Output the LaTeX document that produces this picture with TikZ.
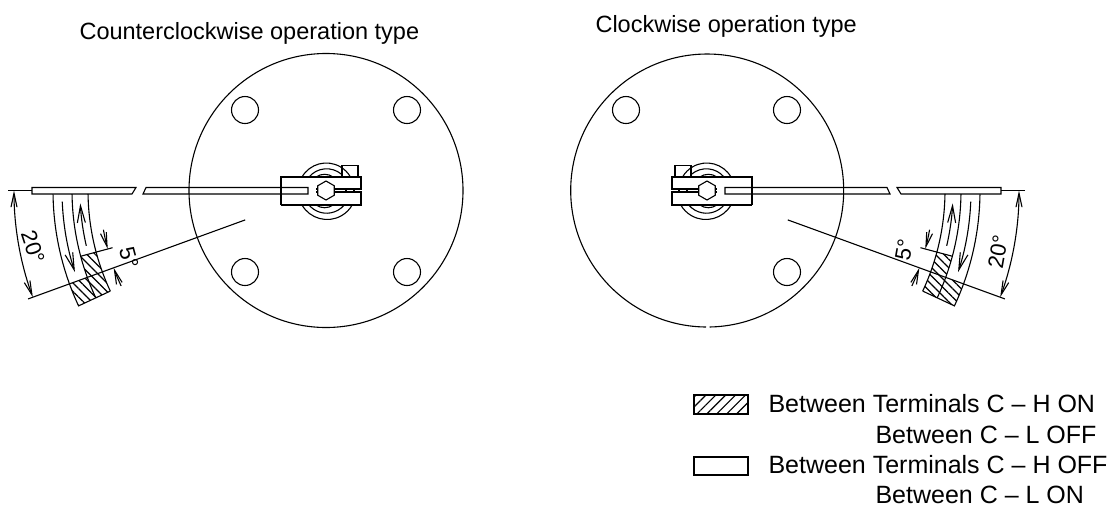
\documentclass[tikz,border=0pt]{standalone}
\usepackage{fontspec}
\setmainfont{Liberation Sans}
\usetikzlibrary{arrows.meta,patterns.meta}

\tikzset{
	dimarrow/.style={arrows={Straight Barb[length=14pt,width=6pt]-Straight Barb[length=14pt,width=6pt]}},
	onearrow/.style={-{Straight Barb[length=14pt,width=6pt]}},
	flowarrow/.style={-{Straight Barb[length=17pt,width=8pt]}},
	hatched/.style={pattern={Lines[angle=-45,distance=6pt,line width=1.2pt]}},
	legendhatched/.style={pattern={Lines[angle=45,distance=7pt,line width=1.1pt]}},
	title/.style={font=\fontsize{23.5}{28}\selectfont, inner sep=0pt, anchor=base west},
	label/.style={font=\fontsize{25}{30}\selectfont, inner sep=0pt, anchor=base west},
	dimlabel/.style={font=\fontsize{22}{26}\selectfont, inner sep=0pt},
	switchplate/.pic={
		% clamp and lever
		\draw (-45,14.5) -- (-45,-13.5) -- (35,-13.5) -- (35,-1.5) -- (-10,-1.5);
		\draw (-10,1.5) -- (35,1.5) -- (35,14.5) -- (-45,14.5);
		\draw (20,-1.5) -- (20,1.5) (28,-1.5) -- (28,1.5);
		\draw (16,-13.5) -- (16,-25) -- (32,-25) -- (32,-13.5);
		\draw[fill=white] (90:9.5) -- (30:9.5) -- (-30:9.5) -- (-90:9.5) -- (-150:9.5) -- (150:9.5) -- cycle;
		\draw (-24,-13.5) arc[start angle=-150, end angle=-30, radius=28];
		\draw (-17,-13.5) arc[start angle=-140, end angle=-50, radius=23];
		\draw (-24,14.5) arc[start angle=150, end angle=30, radius=29];
		\draw (-17,14.5) arc[start angle=140, end angle=40, radius=23];
		\draw (-10,-13.5) arc[start angle=-125, end angle=-55, radius=15];
		\draw (-10,14.5) arc[start angle=125, end angle=55, radius=15];
		\draw (-318,0) -- (-294,0);
		\draw (-190,-3) -- (-294,-3) -- (-294,3.5) -- (-194,3.5) -- cycle;
		\draw (-18,-3) -- (-180,-3) -- (-183,3.5) -- (-18,3.5) -- cycle;
		% operating bands
		\fill[white, hatched] (165:238) -- (165:254) arc[start angle=165, end angle=160, radius=254]
			-- (160:273) arc[start angle=160, end angle=155, radius=273]
			-- (155:238) arc[start angle=155, end angle=165, radius=238] -- cycle;
		\draw (179.2:273) arc[start angle=179.2, end angle=155, radius=273] -- (155:238);
		\draw (179.2:254) arc[start angle=179.2, end angle=155, radius=254];
		\draw (179.2:238) arc[start angle=179.2, end angle=155, radius=238];
		\draw (165:254) -- (165:221);
		\draw (160:86) -- (160:317);
		% arrows and dimensions
		\draw[flowarrow] (177.6:264) arc[start angle=177.6, end angle=162, radius=264];
		\draw[flowarrow] (167:246) arc[start angle=167, end angle=177, radius=246];
		\draw[dimarrow] (180:312) arc[start angle=180, end angle=160, radius=312];
		\draw[onearrow] (170:226) arc[start angle=170, end angle=165, radius=226];
		\draw[onearrow] (155:226) arc[start angle=155, end angle=160, radius=226];
	}
}

\begin{document}
\begin{tikzpicture}[x=1pt, y=1pt, yscale=-1, line width=1.1pt]
	\useasboundingbox (0,0) rectangle (1113,507);

	\coordinate (CCW) at (326,190.5);
	\coordinate (CW) at (707,190.5);

	\node[title] (CCWTitle) at (79,39) {Counterclockwise operation type};
	\node[title] (CWTitle) at (595,32) {Clockwise operation type};

	\draw (CCW) circle[radius=137];
	\draw (CW) ++(-1,136.5) arc[start angle=90.5, end angle=449, radius=136.5];
	\draw (245,110) circle[radius=13.5];
	\draw (407,110) circle[radius=13.5];
	\draw (245,272) circle[radius=13.5];
	\draw (407,272) circle[radius=13.5];
	\draw (626,110) circle[radius=13.5];
	\draw (787,110) circle[radius=13.5];
	\draw (787,272) circle[radius=13.5];

	\pic[yscale=-1] at (CCW) {switchplate};
	\pic[xscale=-1, yscale=-1] at (CW) {switchplate};

	\node[dimlabel, rotate=-72] (AngleL) at (33,247) {20°};
	\node[dimlabel, rotate=-75] (SmallL) at (129,258) {5°};
	\node[dimlabel, rotate=80] (AngleR) at (998,252) {20°};
	\node[dimlabel, rotate=80] (SmallR) at (904,250) {5°};

	% legend
	\draw[legendhatched] (694,395) rectangle (748,414);
	\draw (694,457) rectangle (748,475);
	\node[label] (LegendA) at (768,412) {Between Terminals C – H ON};
	\node[label] (LegendB) at (875,443) {Between C – L OFF};
	\node[label] (LegendC) at (768,473) {Between Terminals C – H OFF};
	\node[label] (LegendD) at (875,503) {Between C – L ON};
\end{tikzpicture}
\end{document}
